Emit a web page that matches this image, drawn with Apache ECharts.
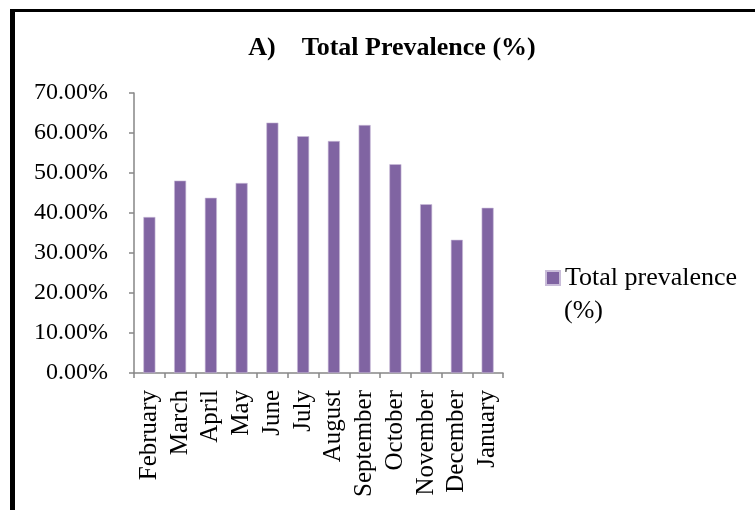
<!DOCTYPE html>
<html>
<head>
<meta charset="utf-8">
<script src="https://cdn.jsdelivr.net/npm/echarts@6/dist/echarts.min.js"></script>
<style>
  html, body { margin: 0; padding: 0; background: #fff; }
  #chart { width: 755px; height: 510px; }
</style>
</head>
<body>
<div id="chart"></div>
<script>
// Monthly total prevalence, February through January
const months = ['February', 'March', 'April', 'May', 'June', 'July', 'August',
  'September', 'October', 'November', 'December', 'January'];
const prevalence = [39.0, 48.1, 43.8, 47.5, 62.6, 59.2, 58.0, 62.0, 52.2, 42.2, 33.3, 41.3];
const seriesName = 'Total prevalence (%)';
const titleText = 'A)    Total Prevalence (%)';

const serif = '"Liberation Serif", "DejaVu Serif", serif';
const axisGray = '#868686';

const chart = echarts.init(document.getElementById('chart'), null, { renderer: 'canvas' });

chart.setOption({
  backgroundColor: '#ffffff',
  animation: false,
  title: {
    text: titleText,
    left: 387,
    top: 30,
    textAlign: 'center',
    textStyle: { fontFamily: serif, fontWeight: 'bold', fontSize: 26, color: '#000' }
  },
  legend: {
    data: [seriesName],
    left: 540,
    top: 260,
    icon: 'rect',
    itemWidth: 14,
    itemHeight: 14,
    itemGap: 0,
    formatter: () => 'Total prevalence',
    textStyle: { fontFamily: serif, fontSize: 26, color: '#000' }
  },
  grid: { left: 134, right: 252, top: 93, bottom: 137, containLabel: false },
  xAxis: {
    type: 'category',
    data: months,
    axisLine: { lineStyle: { color: axisGray, width: 1.5 } },
    axisTick: { show: true, length: 5, lineStyle: { color: axisGray, width: 1.5 } },
    axisLabel: {
      rotate: 90,
      interval: 0,
      margin: 17,
      fontFamily: serif,
      fontSize: 25,
      color: '#000'
    }
  },
  yAxis: {
    type: 'value',
    min: 0,
    max: 70,
    interval: 10,
    axisLine: { show: true, lineStyle: { color: axisGray, width: 1.5 } },
    axisTick: { show: true, length: 5, lineStyle: { color: axisGray, width: 1.5 } },
    splitLine: { show: false },
    axisLabel: {
      margin: 26,
      fontFamily: serif,
      fontSize: 24,
      color: '#000',
      formatter: v => v.toFixed(2) + '%'
    }
  },
  series: [{
    name: seriesName,
    type: 'bar',
    data: prevalence,
    barWidth: 12,
    itemStyle: { color: '#8064A2', borderColor: '#c9bcd9', borderWidth: 0.6 }
  }],
  graphic: [
    // frame around the figure panel
    { type: 'rect', shape: { x: 10, y: 9, width: 745, height: 3 }, style: { fill: '#000' }, silent: true },
    { type: 'rect', shape: { x: 10, y: 9, width: 5, height: 501 }, style: { fill: '#000' }, silent: true },
    // second line of the legend label
    {
      type: 'text',
      left: 564,
      top: 298,
      style: { text: '(%)', fontFamily: serif, fontSize: 26, fill: '#000' },
      silent: true
    }
  ]
});
</script>
</body>
</html>
